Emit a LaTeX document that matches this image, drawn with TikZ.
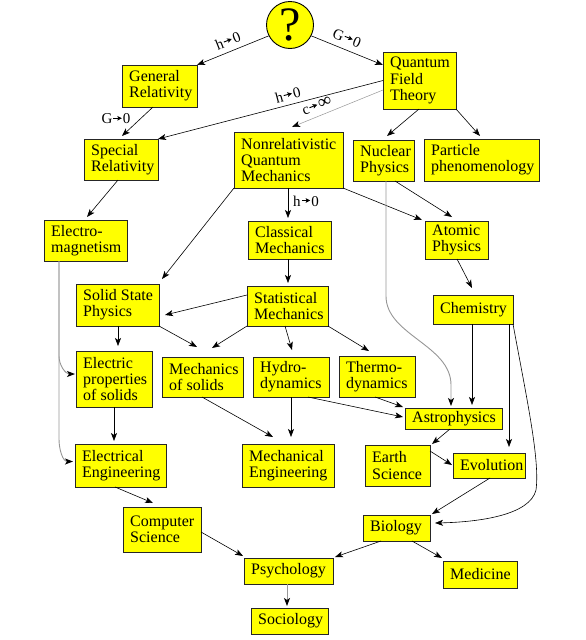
\documentclass[tikz,border=0pt]{standalone}
\usepackage{fontspec}
\setmainfont{Liberation Serif}
\usetikzlibrary{arrows.meta,fit}
\definecolor{boxyellow}{RGB}{255,255,0}
\definecolor{edgegray}{RGB}{150,150,150}
\tikzset{
  box/.style={draw=black!85, line width=0.8pt, fill=boxyellow, inner sep=0pt, outer sep=0pt},
  boxtext/.style={anchor=west, align=left, inner sep=0pt, font=\fontsize{16}{16.3}\selectfont},
  lbl/.style={inner sep=0pt, font=\fontsize{15}{15}\selectfont},
  arr/.style={draw=black, line width=0.6pt, -{Stealth[length=8pt,width=6pt,inset=2pt]}},
  garr/.style={draw=edgegray, line width=0.9pt, -{Stealth[length=8pt,width=6pt,inset=2pt,color=black]}},
}
\newcommand{\bx}[6]{\node[box, fit={(#2,#3) (#4,#5)}] (#1) {};
  \node[boxtext] (#1t) at ([xshift=7pt]#1.west) {#6};}
\newcommand{\limto}{\hspace{0.6pt}\raisebox{3.4pt}{\tikz\draw[line width=0.9pt,-{Stealth[length=4.5pt,width=4.5pt,inset=0.8pt]}] (0pt,0pt) -- (8.5pt,0pt);}\hspace{0.6pt}}
\begin{document}
\begin{tikzpicture}[x=1pt,y=-1pt]
\useasboundingbox (0,0) rectangle (586,640);
% root
\node[circle, draw=black, line width=0.9pt, fill=boxyellow, minimum size=47pt, inner sep=0pt,
      font=\fontsize{48}{48}\selectfont] (q) at (290,25) {?};
% boxes
\bx{gr}{122}{65}{197}{107}{General\\Relativity}
\bx{qft}{383}{52}{456}{109}{Quantum\\Field\\Theory}
\bx{sr}{84}{139}{158}{180}{Special\\Relativity}
\bx{nqm}{234}{132}{343}{188}{Nonrelativistic\\Quantum\\Mechanics}
\bx{em}{44}{220}{127}{261}{Electro-\\magnetism}
\bx{cm}{248}{221}{331}{259}{Classical\\Mechanics}
\bx{nuc}{353}{140}{414}{181}{Nuclear\\Physics}
\bx{part}{424}{139}{539}{181}{Particle\\phenomenology}
\bx{atom}{425}{221}{488}{259}{Atomic\\Physics}
\bx{ssp}{76}{284}{159}{326}{Solid State\\Physics}
\bx{stat}{247}{286}{328}{326}{Statistical\\Mechanics}
\bx{elp}{76}{351}{152}{407}{Electric\\properties\\of solids}
\bx{mos}{162}{357}{243}{397}{Mechanics\\of solids}
\bx{hyd}{253}{357}{329}{397}{Hydro-\\dynamics}
\bx{thd}{339}{356}{415}{397}{Thermo-\\dynamics}
\bx{chem}{433}{295}{513}{324}{Chemistry}
\bx{astro}{405}{408}{502}{429}{Astrophysics}
\bx{earth}{365}{445}{430}{486}{Earth\\Science}
\bx{evo}{453}{453}{525}{478}{Evolution}
\bx{ee}{75}{444}{166}{487}{Electrical\\Engineering}
\bx{me}{242}{444}{334}{487}{Mechanical\\Engineering}
\bx{cs}{123}{507}{201}{552}{Computer\\Science}
\bx{bio}{363}{515}{430}{541}{Biology}
\bx{psy}{244}{558}{333}{584}{Psychology}
\bx{med}{443}{561}{517}{588}{Medicine}
\bx{soc}{251}{608}{328}{634}{Sociology}
% connectors
\draw[arr] (q.207) -- (gr.north east);
\draw[arr] (q.333) -- ([yshift=-13pt]qft.north west);
\draw[arr] ([xshift=31pt]gr.south west) -- ([xshift=38pt,yshift=3pt]sr.north west);
\draw[arr] (qft.west) -- (sr.north east);
\draw[garr, line width=0.5pt] ([yshift=-38pt]qft.north west) -- ([xshift=58pt,yshift=5pt]nqm.north west);
\draw[arr] ([xshift=36pt]qft.south west) -- ([xshift=34pt,yshift=4pt]nuc.north west);
\draw[arr] (qft.south east) -- ([xshift=56pt,yshift=3pt]part.north west);
\draw[arr] ([xshift=34pt]sr.south west) -- ([xshift=43pt,yshift=3pt]em.north west);
\draw[arr] (nqm.south west) -- ([xshift=3pt,yshift=5pt]ssp.north east);
\draw[arr] ([xshift=54pt]nqm.south west) -- ([xshift=40pt,yshift=3pt]cm.north west);
\draw[arr] (nqm.south east) -- ([xshift=-3pt,yshift=1pt]atom.north west);
\draw[arr] ([xshift=42pt]nuc.south west) -- ([xshift=27pt,yshift=4pt]atom.north west);
\draw[garr] ([xshift=33pt]nuc.south west) -- ([xshift=33pt,yshift=-115pt]nuc.south west)
  .. controls ([xshift=33pt,yshift=-154pt]nuc.south west) and ([xshift=46pt,yshift=63pt]astro.north west)
  .. ([xshift=46pt,yshift=23pt]astro.north west) -- ([xshift=46pt,yshift=2pt]astro.north west);
\draw[arr] ([xshift=32pt]atom.south west) -- ([xshift=39pt,yshift=7pt]chem.north west);
\draw[garr] ([xshift=15pt]em.south west) -- ([xshift=15pt,yshift=-95pt]em.south west)
  to[out=-90,in=180] ([xshift=-1pt,yshift=5pt]elp.west);
\draw[garr] ([xshift=15pt]em.south west) -- ([xshift=15pt,yshift=-178pt]em.south west)
  to[out=-90,in=180] ([xshift=-2pt,yshift=4pt]ee.west);
\draw[arr] ([xshift=40pt]cm.south west) -- ([xshift=41pt,yshift=3pt]stat.north west);
\draw[arr] ([yshift=-9pt]stat.north west) -- ([xshift=6pt,yshift=11pt]ssp.south east);
\draw[arr] ([xshift=42pt]ssp.south west) -- ([xshift=42pt,yshift=5pt]elp.north west);
\draw[arr] (ssp.south east) -- ([xshift=35pt,yshift=10pt]mos.north west);
\draw[arr] (stat.south west) -- ([xshift=50pt,yshift=9pt]mos.north west);
\draw[arr] ([xshift=38pt]stat.south west) -- ([xshift=39pt,yshift=7pt]hyd.north west);
\draw[arr] (stat.south east) -- ([xshift=30pt,yshift=5pt]thd.north west);
\draw[arr] ([xshift=38pt]elp.south west) -- ([xshift=39pt,yshift=3pt]ee.north west);
\draw[arr] ([xshift=40pt]mos.south west) -- ([xshift=31pt,yshift=7pt]me.north west);
\draw[arr] ([xshift=38pt]hyd.south west) -- ([xshift=49pt,yshift=7pt]me.north west);
\draw[arr] ([xshift=55pt]hyd.south west) -- ([xshift=-2pt,yshift=-9pt]astro.north west);
\draw[arr] ([xshift=36pt]thd.south west) -- ([xshift=-2pt,yshift=1pt]astro.north west);
\draw[arr] ([xshift=39pt]chem.south west) -- ([xshift=67pt,yshift=3pt]astro.north west);
\draw[arr] ([xshift=76pt]chem.south west) -- ([xshift=56pt,yshift=6pt]evo.north west);
\draw[arr] (chem.south east) .. controls (527,400) and (540,460) .. (536,490)
  .. controls (530,515) and (480,522) .. ([xshift=5pt,yshift=5pt]bio.east);
\draw[arr] ([xshift=45pt]astro.south west) -- ([xshift=2pt,yshift=1pt]earth.north east);
\draw[arr] ([yshift=-6pt]earth.north east) -- ([xshift=-1pt,yshift=-12pt]evo.north west);
\draw[arr] ([xshift=37pt]evo.south west) -- ([xshift=2pt,yshift=1pt]bio.north east);
\draw[arr] ([xshift=18pt]bio.south west) -- ([xshift=2pt,yshift=1pt]psy.north east);
\draw[arr] ([xshift=49pt]bio.south west) -- ([xshift=-1pt,yshift=3pt]med.north west);
\draw[arr] ([xshift=40pt]ee.south west) -- ([xshift=30pt,yshift=4pt]cs.north west);
\draw[arr] ([yshift=-25pt]cs.north east) -- ([xshift=-1pt,yshift=2pt]psy.north west);
\draw[garr] ([xshift=43pt]psy.south west) -- ([xshift=36pt,yshift=2pt]soc.north west);
% labels
\node[lbl, rotate=21.6] (l1) at (228,41) {h\limto0};
\node[lbl, rotate=-22] (l2) at (347,38) {G\limto0};
\node[lbl] (l3) at (116,119) {G\limto0};
\node[lbl, rotate=14.7] (l4) at (288,95) {h\limto0};
\node[lbl, rotate=22] (l5) at (317,106) {c\limto{\fontsize{19}{19}\selectfont∞}};
\node[lbl] (l6) at (306,201) {h\limto0};
\end{tikzpicture}
\end{document}
